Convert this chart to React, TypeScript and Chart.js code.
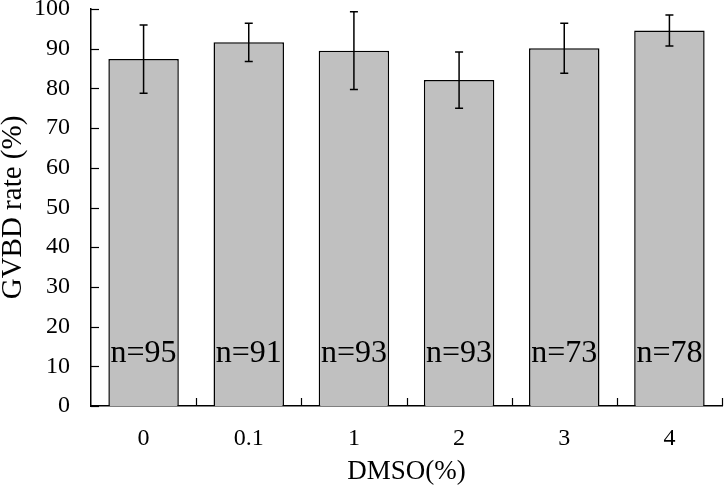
import React, { useEffect, useRef } from "react";
import { Chart, registerables } from "chart.js";

Chart.register(...registerables);

const categories = ["0", "0.1", "1", "2", "3", "4"];
const rates = [87.4, 91.6, 89.5, 82.1, 90.1, 94.6];
const errors = [8.6, 4.8, 9.8, 7.1, 6.3, 3.9];
const nLabels = ["n=95", "n=91", "n=93", "n=93", "n=73", "n=78"];
const nLabelValue = 11;
const yTicks = [0, 10, 20, 30, 40, 50, 60, 70, 80, 90, 100];

const FONT = "'Liberation Serif', 'Times New Roman', serif";

const customPlugin = {
  id: "customDraw",
  afterDatasetsDraw(chart: any) {
    const ctx = chart.ctx;
    const x = chart.scales.x;
    const y = chart.scales.y;
    const area = chart.chartArea;
    ctx.save();
    ctx.strokeStyle = "#000";
    ctx.lineWidth = 1.5;
    // error bars
    rates.forEach((v, i) => {
      const cx = x.getPixelForValue(i);
      const top = y.getPixelForValue(v + errors[i]);
      const bot = y.getPixelForValue(v - errors[i]);
      ctx.beginPath();
      ctx.moveTo(cx, top);
      ctx.lineTo(cx, bot);
      ctx.moveTo(cx - 4, top);
      ctx.lineTo(cx + 4, top);
      ctx.moveTo(cx - 4, bot);
      ctx.lineTo(cx + 4, bot);
      ctx.stroke();
    });
    // inward y ticks
    ctx.lineWidth = 1.2;
    yTicks.forEach((t) => {
      const py = Math.round(y.getPixelForValue(t)) + 0.5;
      ctx.beginPath();
      ctx.moveTo(area.left, py);
      ctx.lineTo(area.left + 8, py);
      ctx.stroke();
    });
    // inward x ticks at category boundaries
    for (let i = 1; i <= categories.length; i++) {
      const px = Math.round(x.getPixelForValue(i - 0.5)) + 0.5;
      ctx.beginPath();
      ctx.moveTo(px, area.bottom);
      ctx.lineTo(px, area.bottom - 8);
      ctx.stroke();
    }
    // n labels
    ctx.fillStyle = "#000";
    ctx.font = `32px ${FONT}`;
    ctx.textAlign = "center";
    ctx.textBaseline = "alphabetic";
    nLabels.forEach((s, i) => {
      ctx.fillText(s, x.getPixelForValue(i), y.getPixelForValue(nLabelValue));
    });
    ctx.restore();
  },
};

export default function App() {
  const ref = useRef<HTMLCanvasElement>(null);
  useEffect(() => {
    if (!ref.current) return;
    const chart = new Chart(ref.current, {
      type: "bar",
      data: {
        labels: categories,
        datasets: [
          {
            data: rates,
            backgroundColor: "#c0c0c0",
            borderColor: "#000",
            borderWidth: 1.5,
            barPercentage: 0.67,
            categoryPercentage: 1.0,
          },
        ],
      },
      options: {
        animation: false,
        responsive: true,
        maintainAspectRatio: false,
        layout: { padding: { top: 9, right: 2, left: 0, bottom: 0 } },
        plugins: { legend: { display: false }, tooltip: { enabled: false } },
        scales: {
          x: {
            grid: { display: false, drawTicks: false },
            border: { display: true, color: "#000", width: 1.5 },
            ticks: {
              color: "#000",
              font: { family: FONT, size: 24 },
              padding: 18,
              maxRotation: 0,
            },
            title: {
              display: true,
              text: "DMSO(%)",
              color: "#000",
              font: { family: FONT, size: 27, lineHeight: 1.1 },
              padding: 0,
            },
            afterFit(scale: any) {
              scale.height = 81;
              scale.paddingLeft = 0;
              scale.paddingRight = 0;
            },
          },
          y: {
            min: 0,
            max: 100,
            grid: { display: false, drawTicks: false },
            border: { display: true, color: "#000", width: 1.5 },
            ticks: {
              stepSize: 10,
              color: "#000",
              font: { family: FONT, size: 24 },
              padding: 21,
            },
            title: {
              display: true,
              text: "GVBD rate (%)",
              color: "#000",
              font: { family: FONT, size: 29, lineHeight: 0.95 },
              padding: 0,
            },
            afterFit(scale: any) {
              scale.width = 91;
              scale.paddingTop = 0;
              scale.paddingBottom = 0;
            },
          },
        },
      },
      plugins: [customPlugin],
    });
    return () => chart.destroy();
  }, []);
  return (
    <div style={{ position: "absolute", left: 0, top: 0, width: 724, height: 487, background: "#fff" }}>
      <canvas ref={ref} />
    </div>
  );
}
